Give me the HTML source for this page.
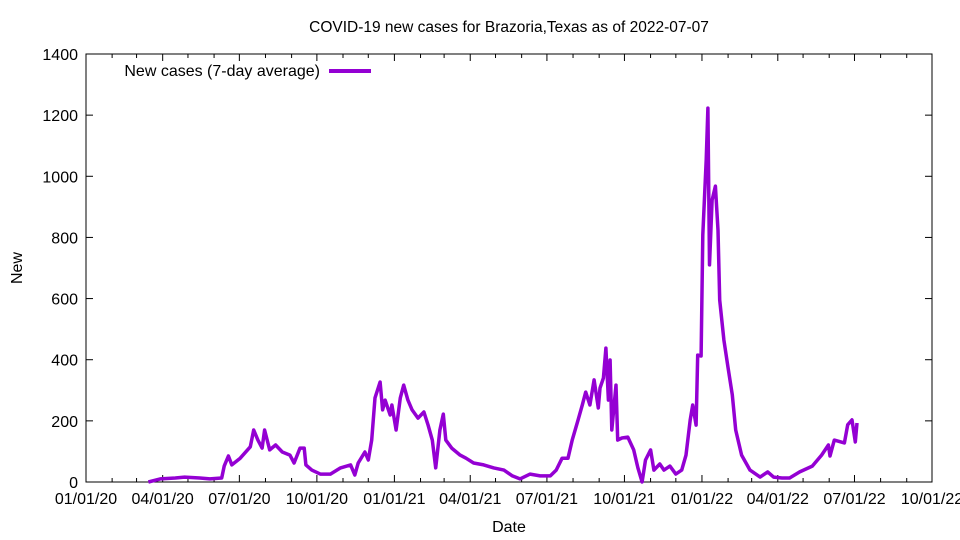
<!DOCTYPE html>
<html><head><meta charset="utf-8"><style>body{margin:0;background:#fff}svg{display:block;font-family:"Liberation Sans",sans-serif}</style></head>
<body>
<svg id="chart" width="960" height="540">
<text x="509" y="32" font-size="15.5" text-anchor="middle">COVID-19 new cases for Brazoria,Texas as of 2022-07-07</text>
<text x="509" y="532" font-size="16" text-anchor="middle">Date</text>
<text x="22" y="268" font-size="16" text-anchor="middle" transform="rotate(-90 22 268)">New</text>
<g id="axes"></g>
<g id="series"></g>
<g>
<text x="320" y="76" font-size="16" text-anchor="end">New cases (7-day average)</text>
<line x1="329" y1="71" x2="371" y2="71" stroke="#9400d3" stroke-width="4"/>
</g>
</svg>
<script>
const dayOffsets=[74,88,106,117,135,147,161,164,169,173,183,195,199,204,209,212,218,225,233,242,247,254,259,261,268,278,290,302,314,319,323,331,335,339,343,349,352,355,361,363,368,373,377,382,387,394,401,406,411,415,420,424,427,434,444,451,460,472,484,496,506,515,527,539,551,558,565,572,577,584,589,593,598,603,608,610,614,617,620,622,624,629,631,636,643,650,655,660,664,670,674,681,686,693,700,707,712,717,720,724,726,730,732,736,738,740,743,747,750,752,757,762,767,771,778,788,800,809,816,826,835,847,862,873,881,883,888,900,904,909,913,915];
const cases=[0,10,13,16,13,10,13,52,85,56,78,115,170,137,111,170,105,121,98,88,62,111,111,56,39,26,26,46,56,23,62,98,72,137,275,327,236,268,219,252,170,275,317,268,236,209,229,186,137,46,170,222,137,111,88,78,62,56,46,39,20,10,26,20,20,39,78,78,137,203,252,294,252,334,242,307,340,438,268,399,170,317,137,144,147,105,46,0,72,105,39,59,39,52,26,39,88,203,252,186,415,412,808,1053,1223,710,922,968,824,595,464,373,285,170,88,39,16,33,16,13,13,33,52,88,121,85,137,128,187,203,131,193];
const yTicks=[0,200,400,600,800,1000,1200,1400];
const xTickLabels=["01/01/20","04/01/20","07/01/20","10/01/20","01/01/21","04/01/21","07/01/21","10/01/21","01/01/22","04/01/22","07/01/22","10/01/22"];
const L=86,R=932,T=54,B=482,totalDays=1004;
const xs=d=>L+(R-L)*d/totalDays;
const ys=v=>B-(B-T)*v/1400;
const NS="http://www.w3.org/2000/svg";
const ax=document.getElementById('axes');
function mk(tag,attrs,parent){const e=document.createElementNS(NS,tag);for(const k in attrs)e.setAttribute(k,attrs[k]);parent.appendChild(e);return e;}
const frame=mk('rect',{x:L,y:T,width:R-L,height:B-T,fill:'none',stroke:'#000','stroke-width':1},ax);


yTicks.forEach(v=>{
 const y=ys(v);
 mk('line',{x1:L,y1:y,x2:L+7,y2:y,stroke:'#000'},ax);
 mk('line',{x1:R,y1:y,x2:R-7,y2:y,stroke:'#000'},ax);
 const t=mk('text',{x:L-8,y:y+6,'font-size':16,'text-anchor':'end'},ax);
 t.textContent=v;
 
 
});
for(let m=0;m<=33;m++){
 const d=(Date.UTC(2020,m,1)-Date.UTC(2020,0,1))/864e5;
 const x=xs(d);
 const len=m%3===0?7:4;
 mk('line',{x1:x,y1:B,x2:x,y2:B-len,stroke:'#000'},ax);
 mk('line',{x1:x,y1:T,x2:x,y2:T+len,stroke:'#000'},ax);
 if(m%3===0){
  const t=mk('text',{x:x,y:B+22,'font-size':16,'text-anchor':'middle'},ax);
  t.textContent=xTickLabels[m/3];
  
  
 }
}
const pts=dayOffsets.map((d,i)=>xs(d).toFixed(1)+','+ys(cases[i]).toFixed(1)).join(' ');
const line=mk('polyline',{points:pts,fill:'none',stroke:'#9400d3','stroke-width':3.5,'stroke-linejoin':'round'},document.getElementById('series'));


</script>
</body></html>
